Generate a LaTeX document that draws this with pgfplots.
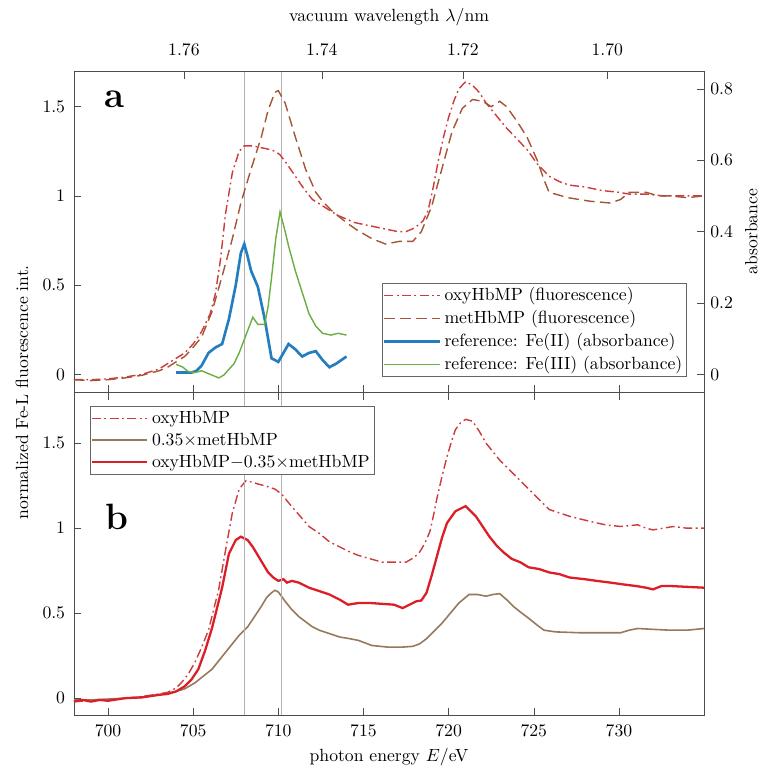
\documentclass[border=0pt]{standalone}
\usepackage{pgfplots}
\pgfplotsset{compat=1.18}

\definecolor{oxyred}{RGB}{205,60,60}
\definecolor{metbrown}{RGB}{165,85,55}
\definecolor{refblue}{RGB}{35,125,190}
\definecolor{refgreen}{RGB}{105,175,65}
\definecolor{diffred}{RGB}{220,30,40}
\definecolor{scbrown}{RGB}{150,120,90}

\pgfplotsset{
  panel/.style={
    width=357pt, scale only axis,
    xmin=698, xmax=735,
    tick style={black!70},
    axis line style={black!70},
    yticklabel shift=1.5pt,
    legend cell align=left,
    legend style={draw=black!60, font=\normalsize, inner sep=0.5pt},
    legend image code/.code={\draw[#1] plot coordinates {(0cm,0cm) (1.1cm,0cm)};},
  },
  dashdot/.style={dash pattern=on 5pt off 2pt on 1pt off 2pt},
  longdash/.style={dash pattern=on 6pt off 3pt},
}

\begin{document}
\begin{tikzpicture}
% ---- panel b ----
\begin{axis}[panel, name=bot, height=183pt,
    ymin=-0.1, ymax=1.8,
    xtick={700,705,...,730}, ytick={0,0.5,1,1.5}, ytick pos=left,
    xticklabel shift=2pt,
    xlabel={photon energy $E$/eV},
    legend style={at={(0.025,0.957)}, anchor=north west},
]
\addplot[oxyred, thick, dashdot] coordinates {
(698,-0.02) (699,-0.015) (700,-0.01) (701,0.0) (702,0.01) (703,0.025) (703.5,0.035)
(704,0.06) (704.3,0.09) (704.7,0.14) (705.1,0.21) (705.5,0.30) (705.9,0.40) (706.2,0.52)
(706.5,0.64) (706.9,0.87) (707.3,1.09) (707.7,1.23) (708.1,1.28) (708.5,1.27) (708.8,1.26)
(709.2,1.25) (709.8,1.23) (710.2,1.20) (710.6,1.15) (711.2,1.08) (711.8,1.01) (712.4,0.97)
(713,0.92) (713.6,0.89) (714.2,0.86) (714.7,0.84) (715.4,0.82) (716.1,0.80) (716.8,0.80)
(717.5,0.80) (718,0.83) (718.3,0.86) (718.6,0.91) (718.9,0.98) (719.1,1.07) (719.3,1.17)
(719.6,1.30) (719.9,1.42) (720.2,1.52) (720.4,1.58) (720.7,1.62) (721.0,1.64) (721.4,1.63)
(721.8,1.57) (722.2,1.50) (722.6,1.45) (723.0,1.40) (723.6,1.34) (724.2,1.28) (724.7,1.23)
(725.3,1.17) (725.9,1.11) (726.5,1.09) (727.1,1.07) (728.3,1.04) (729.2,1.02) (730.1,1.01)
(731.1,1.02) (731.6,1.00) (732,0.99) (732.6,1.00) (733.2,1.01) (734,1.00) (735,1.00)
};
\addlegendentry{oxyHbMP}
\addplot[scbrown, line width=0.9pt] coordinates {
(698,-0.01) (699,-0.01) (700,-0.005) (701,0.0) (702,0.005) (703,0.02) (704,0.04)
(704.5,0.055) (705.1,0.09) (705.6,0.13) (706.1,0.17) (706.5,0.22) (706.9,0.27) (707.3,0.32)
(707.7,0.37) (708.2,0.42) (708.6,0.48) (709.0,0.54) (709.3,0.59) (709.6,0.62) (709.8,0.635)
(710.0,0.625) (710.4,0.57) (710.8,0.52) (711.2,0.48) (711.6,0.45) (712.0,0.42) (712.4,0.40)
(713.0,0.38) (713.6,0.36) (714.2,0.35) (714.7,0.34) (715.5,0.31) (716.5,0.30) (717.2,0.30)
(717.9,0.305) (718.3,0.32) (718.7,0.35) (719.2,0.40) (719.6,0.44) (720.1,0.50) (720.6,0.56)
(721.2,0.61) (721.7,0.61) (722.2,0.60) (722.6,0.61) (723.0,0.615) (723.4,0.58) (723.8,0.54)
(724.3,0.50) (724.7,0.47) (725.2,0.43) (725.6,0.40) (726.3,0.39) (727.7,0.385) (729,0.385)
(730.1,0.385) (730.6,0.40) (731.1,0.41) (732,0.405) (733,0.40) (734,0.40) (735,0.41)
};
\addlegendentry{0.35$\times$metHbMP}
\addplot[diffred, line width=1.3pt] coordinates {
(698,-0.02) (698.5,-0.01) (699,-0.02) (699.5,-0.01) (700,-0.015) (701,0.0) (702,0.005)
(703,0.02) (703.5,0.025) (704,0.04) (704.5,0.07) (704.9,0.11) (705.3,0.17) (705.7,0.28)
(706.1,0.41) (706.4,0.53) (706.7,0.65) (707.1,0.85) (707.5,0.93) (707.8,0.95) (708.2,0.93)
(708.5,0.89) (708.8,0.84) (709.1,0.79) (709.4,0.74) (709.7,0.71) (710.0,0.69) (710.3,0.70)
(710.5,0.68) (710.8,0.69) (711.2,0.68) (711.8,0.65) (712.4,0.63) (713.0,0.61) (713.6,0.58)
(714.1,0.55) (714.7,0.56) (715.4,0.56) (716.1,0.555) (716.8,0.55) (717.3,0.53) (717.8,0.555)
(718.1,0.57) (718.4,0.575) (718.7,0.62) (719.0,0.72) (719.3,0.83) (719.6,0.94) (719.9,1.03)
(720.4,1.10) (721.0,1.13) (721.6,1.07) (722.0,1.01) (722.4,0.95) (722.8,0.90) (723.2,0.86)
(723.7,0.82) (724.2,0.80) (724.7,0.77) (725.3,0.76) (725.9,0.74) (726.5,0.73) (727.1,0.71)
(728.0,0.70) (728.7,0.69) (729.5,0.68) (730.2,0.67) (731,0.66) (731.6,0.65) (732.0,0.64)
(732.5,0.66) (733,0.66) (734,0.655) (735,0.65)
};
\addlegendentry{oxyHbMP$-$0.35$\times$metHbMP}
\addplot[black!30, forget plot] coordinates {(708,-0.1) (708,1.8)};
\addplot[black!30, forget plot] coordinates {(710.2,-0.1) (710.2,1.8)};
\node[font=\huge\bfseries] at (axis cs:700.5,1.065) {b};
\end{axis}

% ---- panel a, fluorescence ----
\begin{axis}[panel, name=top, at={(bot.north west)}, anchor=south west, height=182pt,
    ymin=-0.1, ymax=1.7,
    xtick={700,705,...,730}, xticklabels={}, xtick pos=bottom,
    ytick={0,0.5,1,1.5}, ytick pos=left,
]
\addplot[black!30, forget plot] coordinates {(708,-0.1) (708,1.7)};
\addplot[black!30, forget plot] coordinates {(710.2,-0.1) (710.2,1.7)};
\addplot[oxyred, thick, dashdot] coordinates {
(698,-0.03) (699,-0.03) (700,-0.025) (701,-0.015) (702,0.0) (703,0.03) (703.5,0.06)
(704,0.09) (704.5,0.12) (705,0.17) (705.5,0.24) (706,0.34) (706.3,0.45) (706.6,0.64)
(706.9,0.90) (707.3,1.13) (707.7,1.25) (708.0,1.28) (708.5,1.28) (709,1.27) (709.5,1.26)
(709.8,1.25) (710.1,1.23) (710.5,1.18) (711,1.11) (711.5,1.04) (712,0.98) (712.5,0.95)
(713,0.92) (713.5,0.89) (714,0.87) (714.5,0.85) (715,0.84) (715.5,0.83) (716,0.82)
(716.5,0.81) (717,0.80) (717.5,0.80) (718,0.82) (718.5,0.86) (718.8,0.92) (719.1,1.05)
(719.4,1.20) (719.7,1.33) (720,1.44) (720.3,1.53) (720.6,1.60) (721,1.64) (721.4,1.62)
(721.8,1.58) (722.2,1.52) (722.8,1.45) (723.4,1.38) (724,1.32) (724.6,1.26) (725.2,1.18)
(725.9,1.11) (726.5,1.08) (727.1,1.06) (728,1.05) (729,1.03) (730,1.02) (730.6,1.01)
(731.1,1.01) (731.6,1.01) (732.6,1.00) (733.5,1.00) (735,1.00)
};
\addplot[metbrown, thick, longdash] coordinates {
(698,-0.03) (699,-0.035) (700,-0.03) (701,-0.02) (702,-0.005) (703,0.02) (703.5,0.04)
(704,0.07) (704.5,0.10) (704.9,0.14) (705.5,0.21) (706.1,0.35) (706.7,0.55) (707.3,0.76)
(707.8,0.96) (708.4,1.15) (709,1.33) (709.4,1.48) (709.8,1.58) (710.0,1.59) (710.4,1.52)
(711,1.33) (711.6,1.15) (712.2,1.02) (712.6,0.97) (713.1,0.92) (714,0.85) (714.6,0.81)
(715.5,0.76) (716.3,0.73) (717.1,0.745) (717.9,0.745) (718.4,0.80) (719,0.94) (719.6,1.15)
(720.2,1.36) (720.8,1.49) (721.4,1.54) (722,1.53) (722.5,1.50) (723.0,1.53) (723.4,1.50)
(724,1.42) (724.6,1.33) (725.2,1.20) (725.6,1.09) (725.9,1.02) (727,0.99) (728.3,0.97)
(729.5,0.96) (730.1,0.98) (730.6,1.02) (731.6,1.02) (732.3,1.00) (733,1.00) (734,0.99) (735,1.00)
};
\node[font=\huge\bfseries] at (axis cs:700.4,1.54) {a};
\end{axis}

% ---- panel a, absorbance (right axis, wavelength on top) ----
\begin{axis}[panel, at={(bot.north west)}, anchor=south west, height=182pt,
    axis y line*=right, axis x line*=top,
    ymin=-0.05, ymax=0.85, ytick={0,0.2,0.4,0.6,0.8},
    yticklabel shift=0pt,
    xtick={704.456,712.553,720.838,729.319},
    xticklabels={1.76,1.74,1.72,1.70},
    xticklabel shift=5pt,
    xlabel={vacuum wavelength $\lambda$/nm},
    xlabel style={yshift=3pt},
    ylabel={absorbance},
    legend style={at={(0.973,0.047)}, anchor=south east},
]
\addlegendimage{oxyred, thick, dashdot}
\addlegendentry{oxyHbMP (fluorescence)}
\addlegendimage{metbrown, thick, longdash}
\addlegendentry{metHbMP (fluorescence)}
\addplot[refblue, line width=1.5pt] coordinates {
(704.0,0.005) (704.5,0.005) (704.9,0.005) (705.2,0.01) (705.5,0.025) (705.9,0.06)
(706.3,0.075) (706.7,0.085) (707.1,0.155) (707.5,0.25) (707.8,0.34) (708.0,0.365)
(708.2,0.33) (708.4,0.29) (708.8,0.245) (709.2,0.155) (709.6,0.045) (710.0,0.035)
(710.3,0.06) (710.6,0.085) (711.0,0.07) (711.4,0.05) (711.8,0.06) (712.2,0.065)
(712.6,0.04) (713.0,0.02) (713.4,0.03) (714.0,0.05)
};
\addlegendentry{reference: Fe(II) (absorbance)}
\addplot[refgreen, line width=0.8pt] coordinates {
(704.0,0.028) (704.4,0.02) (704.7,0.008) (705.1,0.005) (705.5,0.01) (706.0,0.0)
(706.5,-0.01) (706.8,-0.002) (707.1,0.014) (707.4,0.03) (707.7,0.06) (708.1,0.11)
(708.5,0.16) (708.8,0.14) (709.2,0.14) (709.4,0.19) (709.6,0.27) (709.85,0.38)
(710.1,0.455) (710.35,0.41) (710.6,0.36) (711.0,0.29) (711.4,0.23) (711.8,0.17)
(712.2,0.135) (712.6,0.115) (713.1,0.11) (713.5,0.115) (714.0,0.11)
};
\addlegendentry{reference: Fe(III) (absorbance)}
\end{axis}

\node[rotate=90] at ([xshift=-29.4pt]bot.north west) {normalized Fe-L fluorescence int.};
% page margins as in the reference
\path ([xshift=-41.9pt,yshift=-31pt]bot.south west) ([xshift=31.7pt,yshift=40.2pt]top.north east);
\end{tikzpicture}
\end{document}
